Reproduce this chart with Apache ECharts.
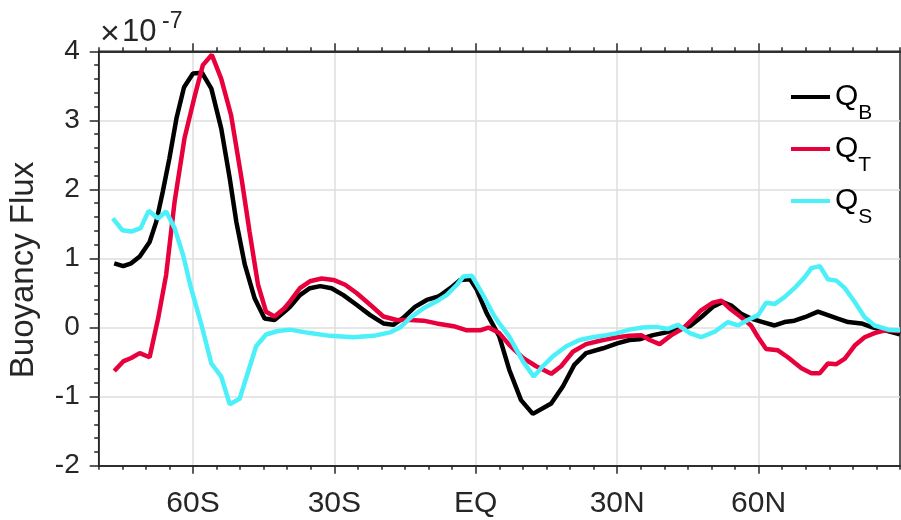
<!DOCTYPE html>
<html>
<head>
<meta charset="utf-8">
<script src="https://cdn.jsdelivr.net/npm/echarts@6/dist/echarts.min.js"></script>
<style>html,body{margin:0;padding:0;background:#fff}#c{width:901px;height:520px}</style>
</head>
<body>
<div id="c"></div>
<script>
// Latitude (deg, S negative) and buoyancy flux (x1e-7)
const qbLat = [-76.7,-74.8,-73.1,-71.3,-69.2,-67.8,-66.4,-65,-63.5,-61.9,-60,-58.1,-56.1,-54,-52.2,-50.8,-49,-46.9,-44.8,-42.7,-40.6,-39.4,-37.3,-35.2,-33,-30.6,-28.1,-25.3,-22.4,-19.6,-17.5,-15.4,-12.9,-10.4,-7.9,-5.4,-3.3,-1.2,0.2,2.3,5,7.1,9.6,12.1,16,18.5,20.9,23.4,27,30,32.6,34.7,37.6,40.4,43.2,45.4,47.8,50.3,52.4,54.2,56.3,58.4,60.9,63.4,65.5,67.6,69.8,72.6,74.7,76.8,79,81.8,84.3,86.8,89.6,90];
const qbVal = [0.93,0.89,0.93,1.03,1.24,1.53,1.97,2.45,3.03,3.48,3.68,3.69,3.46,2.88,2.16,1.53,0.91,0.42,0.13,0.11,0.23,0.30,0.47,0.57,0.60,0.57,0.47,0.33,0.18,0.06,0.04,0.14,0.30,0.40,0.45,0.57,0.69,0.70,0.55,0.21,-0.13,-0.61,-1.05,-1.25,-1.10,-0.85,-0.54,-0.37,-0.30,-0.23,-0.18,-0.17,-0.11,-0.07,-0.02,0.02,0.15,0.30,0.37,0.32,0.20,0.13,0.08,0.03,0.08,0.10,0.15,0.23,0.18,0.13,0.08,0.06,0.0,-0.04,-0.09,-0.10];

const qtLat = [-76.7,-74.8,-73.1,-71.3,-69.2,-67.4,-65.7,-63.9,-61.8,-59.6,-57.9,-56,-54,-51.9,-49.7,-48,-46.2,-44.5,-42.7,-40.6,-39.4,-37.3,-35.2,-32.7,-30.2,-27.7,-25.3,-22.4,-19.6,-16.8,-13.9,-11.1,-8.3,-4.7,-1.9,0.9,2.7,5,7.1,10,12.8,16,18.1,20.6,23.4,27,30,32.6,35.1,36.9,39,41.5,44,46.1,47.8,50.3,52.1,53.8,56.3,58.4,59.9,61.6,64.1,66.2,69.1,71.2,73,74.7,76.5,78.3,80.4,82.5,84.6,86.8,89.6,90];
const qtVal = [-0.63,-0.49,-0.44,-0.37,-0.43,0.13,0.76,1.82,2.74,3.36,3.80,3.95,3.60,3.07,2.16,1.39,0.62,0.23,0.16,0.28,0.38,0.57,0.67,0.71,0.69,0.62,0.50,0.33,0.16,0.11,0.11,0.10,0.06,0.02,-0.04,-0.04,0.0,-0.08,-0.25,-0.44,-0.56,-0.67,-0.56,-0.35,-0.24,-0.18,-0.14,-0.12,-0.11,-0.18,-0.24,-0.11,-0.01,0.13,0.25,0.36,0.39,0.28,0.15,0.03,-0.14,-0.31,-0.33,-0.43,-0.59,-0.66,-0.66,-0.52,-0.53,-0.45,-0.26,-0.14,-0.08,-0.04,-0.05,-0.05];

const qsLat = [-77,-75,-73.1,-71.1,-69.4,-67.4,-65.7,-63.9,-62.1,-60.4,-58.2,-56.1,-54,-52.2,-50.1,-48.3,-46.6,-44.5,-42,-39.4,-35.2,-30.9,-26,-21.7,-18.2,-16.1,-13.9,-11.1,-8.3,-6.2,-4,-2.6,-0.8,1.3,3.8,5,7.1,10,12.3,14.2,16.3,19.2,22,24.8,27.7,30,32.6,35.4,38.3,40.8,42.9,45.4,47.8,50.7,53.5,55.6,57.7,59.9,61.6,63.4,65.5,67.6,69.8,71.2,73,74.7,76.5,78.3,80.4,82.5,84.6,87.5,89.6,90];
const qsVal = [1.58,1.41,1.39,1.44,1.69,1.58,1.68,1.44,1.05,0.57,0.04,-0.52,-0.71,-1.11,-1.03,-0.64,-0.27,-0.10,-0.05,-0.03,-0.08,-0.12,-0.14,-0.12,-0.07,0.0,0.14,0.28,0.38,0.47,0.62,0.74,0.75,0.50,0.18,0.06,-0.13,-0.49,-0.71,-0.56,-0.42,-0.27,-0.18,-0.14,-0.11,-0.08,-0.03,0.0,0.01,-0.02,0.04,-0.08,-0.14,-0.06,0.08,0.03,0.11,0.18,0.36,0.34,0.44,0.57,0.73,0.86,0.89,0.70,0.68,0.57,0.37,0.15,0.03,-0.03,-0.04,-0.04];

const seriesNames = ['QB', 'QT', 'QS'];
const seriesColors = ['#000000', '#e8003c', '#4cf0f8'];
const xTickValues = [-60, -30, 0, 30, 60];
const xTickLabels = ['60S', '30S', 'EQ', '30N', '60N'];
const yTickMin = -2, yTickMax = 4, yTickStep = 1;

const pairs = (xs, ys) => xs.map((x, i) => [x, ys[i]]);
const axisColor = '#262626';
const font = 'Liberation Sans, Arial, Helvetica, sans-serif';

const chart = echarts.init(document.getElementById('c'), null, {renderer: 'canvas'});

function xAxisDef(position, major) {
  const ax = {
    type: 'value', min: -80, max: 90, position: position,
    axisLine: {show: true, onZero: false, lineStyle: {color: axisColor, width: 1.5}},
    splitLine: {show: false},
    axisLabel: {show: false},
    axisTick: {show: true, inside: false, length: major ? 8 : 4, lineStyle: {color: axisColor, width: 1.5}}
  };
  if (major) {
    ax.axisTick.customValues = xTickValues;
    if (position === 'bottom') {
      ax.axisLabel = {show: true, customValues: xTickValues, margin: 23, color: axisColor, fontSize: 30, fontFamily: font,
        formatter: v => xTickLabels[xTickValues.indexOf(v)] || ''};
      ax.splitLine = {show: true, lineStyle: {color: '#dedede', width: 1.5}};
    }
  } else {
    ax.interval = 5;
  }
  return ax;
}

chart.setOption({
  animation: false,
  backgroundColor: '#ffffff',
  grid: {left: 98.7, right: 1, top: 51.3, bottom: 54.3, show: true, borderColor: axisColor, borderWidth: 1.5, backgroundColor: 'transparent'},
  xAxis: [xAxisDef('bottom', true), xAxisDef('bottom', false), xAxisDef('top', true), xAxisDef('top', false)],
  yAxis: {
    type: 'value', min: yTickMin, max: yTickMax, interval: yTickStep, position: 'left',
    axisLine: {show: true, onZero: false, lineStyle: {color: axisColor, width: 1.5}},
    axisTick: {show: true, inside: false, length: 9, lineStyle: {color: axisColor, width: 1.5}},
    minorTick: {show: true, splitNumber: 5, length: 4.5, lineStyle: {color: axisColor, width: 1.5}},
    axisLabel: {margin: 19, color: axisColor, fontSize: 28, fontFamily: font},
    splitLine: {show: true, lineStyle: {color: '#dedede', width: 1.5}}
  },
  legend: {
    orient: 'vertical', left: 791, top: 82, padding: 0, itemGap: 10,
    itemWidth: 39, itemHeight: 4, icon: 'rect',
    data: seriesNames,
    formatter: n => '{q|Q}{s|' + n.slice(1) + '}',
    textStyle: {
      color: '#000', fontFamily: font,
      rich: {
        q: {fontSize: 30, lineHeight: 30, verticalAlign: 'top', fontFamily: font, color: '#000'},
        s: {fontSize: 21, lineHeight: 21, verticalAlign: 'top', padding: [21, 0, 0, 0], fontFamily: font, color: '#000'}
      }
    }
  },
  graphic: [
    {type: 'text', x: 24, y: 270, rotation: Math.PI / 2,
     style: {text: 'Buoyancy Flux', fontSize: 33, fontFamily: font, fill: axisColor, align: 'center', verticalAlign: 'middle'}},
    {type: 'text', x: 110, y: 35, style: {text: '×', fontSize: 34, fontFamily: font, fill: axisColor, align: 'center', verticalAlign: 'middle'}},
    {type: 'text', x: 122, y: 32.5, style: {text: '10', fontSize: 31, fontFamily: font, fill: axisColor, align: 'left', verticalAlign: 'middle'}},
    {type: 'text', x: 162, y: 21.5, style: {text: '-7', fontSize: 23, fontFamily: font, fill: axisColor, align: 'left', verticalAlign: 'middle'}}
  ],
  series: [
    {name: seriesNames[0], type: 'line', xAxisIndex: 0, data: pairs(qbLat, qbVal), showSymbol: false, symbol: 'none', color: seriesColors[0], lineStyle: {width: 4.5, color: seriesColors[0]}, z: 3},
    {name: seriesNames[1], type: 'line', xAxisIndex: 0, data: pairs(qtLat, qtVal), showSymbol: false, symbol: 'none', color: seriesColors[1], lineStyle: {width: 4.5, color: seriesColors[1]}, z: 4},
    {name: seriesNames[2], type: 'line', xAxisIndex: 0, data: pairs(qsLat, qsVal), showSymbol: false, symbol: 'none', color: seriesColors[2], lineStyle: {width: 4.5, color: seriesColors[2]}, z: 5}
  ]
});
</script>
</body>
</html>
